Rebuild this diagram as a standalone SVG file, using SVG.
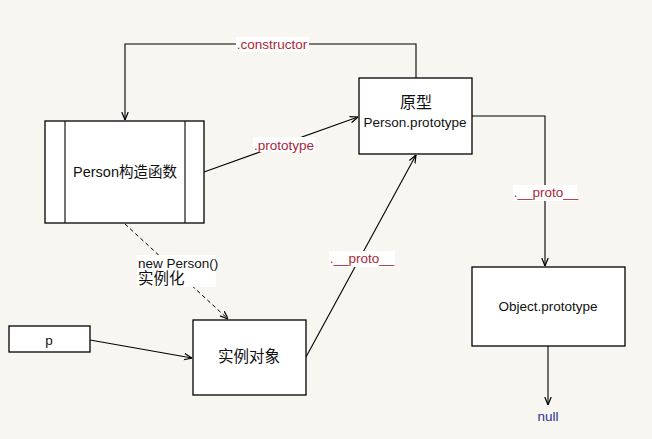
<svg xmlns="http://www.w3.org/2000/svg" width="652" height="439" viewBox="0 0 652 439">
<defs>
<style>
.box{fill:#ffffff;stroke:#000;stroke-width:1.3}
.ln{fill:none;stroke:#000;stroke-width:1.1}
.dash{fill:none;stroke:#000;stroke-width:1;stroke-dasharray:4 3}
.t{font-family:"Liberation Sans","Noto Sans CJK SC",sans-serif;font-size:13.5px;fill:#111;text-anchor:middle}
.cj{font-family:"Liberation Sans","Noto Sans CJK SC",sans-serif;font-size:15px;fill:#111;text-anchor:middle}
.lbl{font-family:"Liberation Sans",sans-serif;font-size:13.5px;fill:#a8283a;text-anchor:middle}
.lbg{fill:#ffffff}
</style>
<marker id="arr" viewBox="0 0 10 10" refX="10" refY="5" markerWidth="8" markerHeight="8" orient="auto" markerUnits="userSpaceOnUse">
<path d="M0,1 L10,5 L0,9" fill="none" stroke="#000" stroke-width="1.5"/>
</marker>
</defs>
<rect width="652" height="439" fill="#f8f6f1"/>

<g id="connectors">
<polyline class="ln" points="416,78 416,44 125,44 125,120" marker-end="url(#arr)"/>
<line class="ln" x1="204" y1="172" x2="358" y2="117" marker-end="url(#arr)"/>
<polyline class="ln" points="472,116 545,116 545,266" marker-end="url(#arr)"/>
<line class="ln" x1="548" y1="346" x2="548" y2="405" marker-end="url(#arr)"/>
<line class="ln" x1="90" y1="340" x2="192" y2="358" marker-end="url(#arr)"/>
<line class="ln" x1="306" y1="357" x2="416" y2="155" marker-end="url(#arr)"/>
<line class="dash" x1="125" y1="224" x2="228" y2="319" marker-end="url(#arr)"/>
<rect class="lbg" x="236" y="37" width="73" height="15"/>
<text class="lbl" x="272" y="49">.constructor</text>
<rect class="lbg" x="253" y="137" width="62" height="15"/>
<text class="lbl" x="284" y="150">.prototype</text>
<rect class="lbg" x="513" y="185" width="64" height="16"/>
<text class="lbl" x="546" y="197">.__proto__</text>
<rect class="lbg" x="329" y="251" width="66" height="16"/>
<text class="lbl" x="362" y="263">.__proto__</text>
<rect class="lbg" x="137" y="255" width="79" height="32"/>
<text x="138" y="268" style="font-family:'Liberation Sans',sans-serif;font-size:13.5px;fill:#111">new Person()</text>
<text x="138" y="284" style="font-family:'Liberation Sans','Noto Sans CJK SC',sans-serif;font-size:15.5px;fill:#111">实例化</text>
<text x="548" y="421" style="font-family:'Liberation Sans',sans-serif;font-size:13.5px;fill:#2e2e96;text-anchor:middle">null</text>
</g>

<g id="person-constructor">
<rect class="box" x="45" y="121" width="159" height="102"/>
<line class="ln" x1="65" y1="121" x2="65" y2="223"/>
<line class="ln" x1="185" y1="121" x2="185" y2="223"/>
<text class="t" x="125" y="177" style="font-size:14.5px">Person构造函数</text>
</g>

<g id="prototype">
<rect class="box" x="359" y="78" width="113" height="76"/>
<text class="cj" x="416" y="108" style="font-size:16px">原型</text>
<text class="t" x="415" y="127">Person.prototype</text>
</g>

<g id="object-prototype">
<rect class="box" x="472" y="267" width="153" height="79"/>
<text class="t" x="548" y="311">Object.prototype</text>
</g>

<g id="p">
<rect class="box" x="9" y="326" width="81" height="26"/>
<text class="t" x="49" y="345">p</text>
</g>

<g id="instance">
<rect class="box" x="193" y="320" width="113" height="75"/>
<text class="cj" x="249" y="362" style="font-size:15.5px">实例对象</text>
</g>
</svg>
